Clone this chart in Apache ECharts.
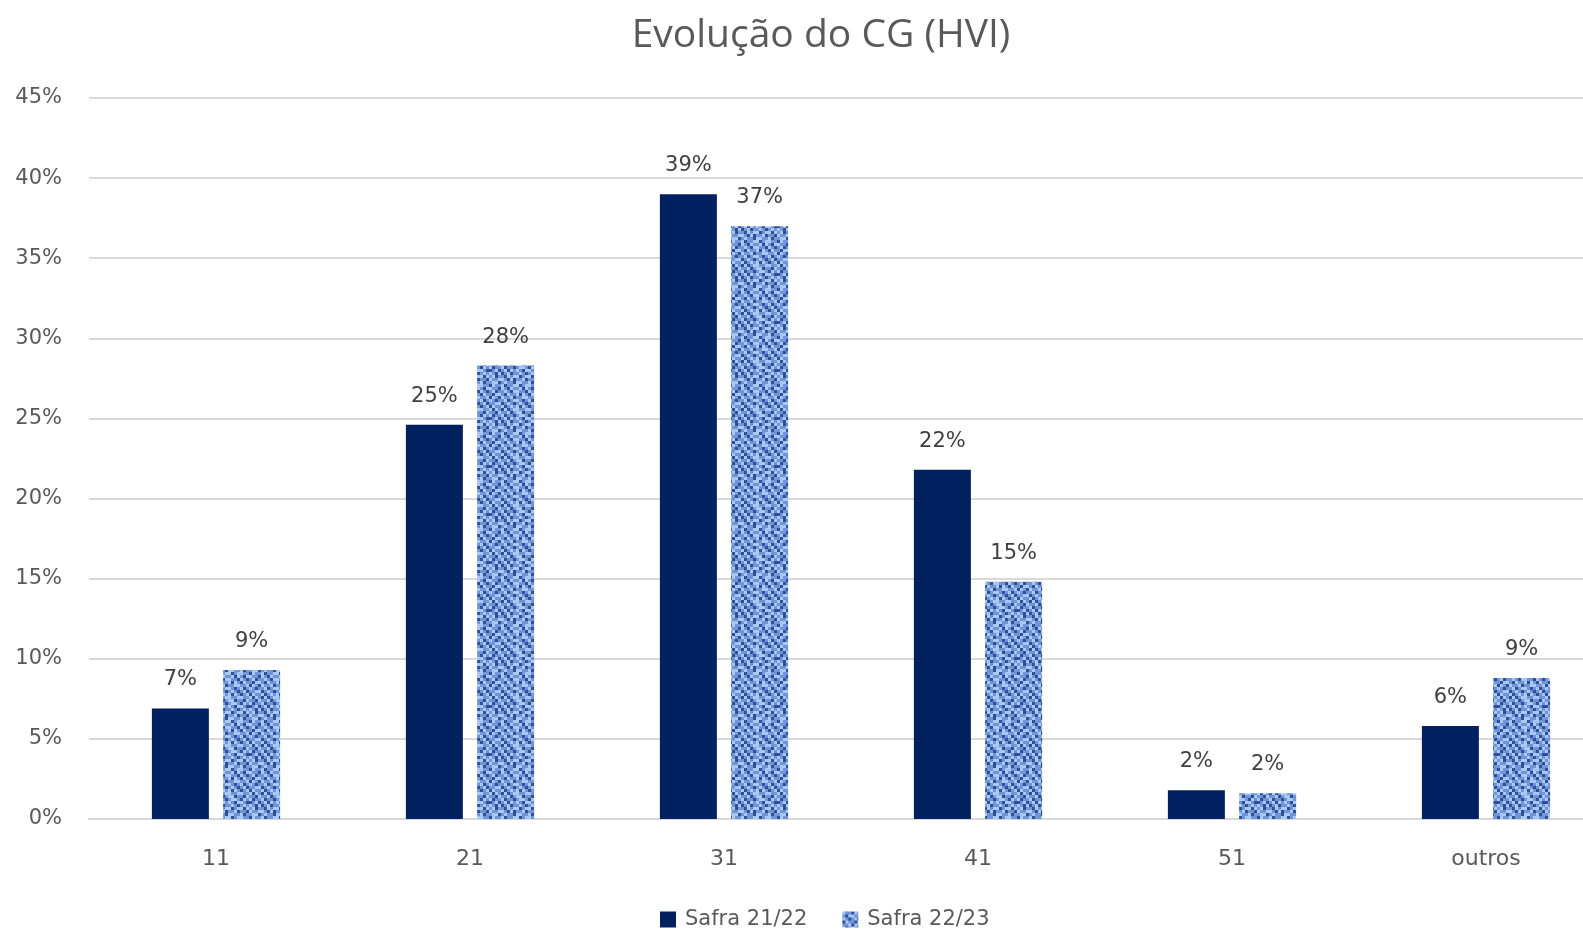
<!DOCTYPE html>
<html>
<head>
<meta charset="utf-8">
<script src="https://cdn.jsdelivr.net/npm/echarts@6/dist/echarts.min.js"></script>
<style>
html,body{margin:0;padding:0;background:#fff;}
#chart{width:1583px;height:933px;}
</style>
</head>
<body>
<div id="chart"></div>
<script>
const categories = ['11', '21', '31', '41', '51', 'outros'];
const safra2122 = [6.9, 24.6, 39.0, 21.8, 1.8, 5.8];
const safra2223 = [9.3, 28.3, 37.0, 14.8, 1.6, 8.8];
const seriesNames = ['Safra 21/22', 'Safra 22/23'];
const yTicks = { min: 0, max: 45, interval: 5 };

// woven texture tile (style only)
function makeTexture() {
  const rows = [
    '0112011021100210',
    '1200112012011020',
    '0121021101200112',
    '2011200120110201',
    '1102012011021100',
    '0210121102100121',
    '1021100210121012',
    '2102011021010201',
    '0110201202100110',
    '1201120110210021',
    '2010211021121001',
    '0122102102010120',
    '1010120210211012',
    '0201021120100210',
    '1120110012021102',
    '0211002101120011'
  ];
  const cols = ['#aac7f1', '#6f94d7', '#2d5096'];
  const cell = 3;
  const c = document.createElement('canvas');
  c.width = rows[0].length * cell;
  c.height = rows.length * cell;
  const ctx = c.getContext('2d');
  for (let y = 0; y < rows.length; y++) {
    for (let x = 0; x < rows[y].length; x++) {
      ctx.fillStyle = cols[+rows[y][x]];
      ctx.fillRect(x * cell, y * cell, cell, cell);
    }
  }
  return c;
}
const texture = makeTexture();

const chart = echarts.init(document.getElementById('chart'));
const labelStyle = {
  show: true,
  position: 'top',
  distance: 18,
  fontFamily: 'DejaVu Sans',
  fontSize: 21,
  color: '#404040',
  formatter: p => Math.round(p.value) + '%'
};
chart.setOption({
  animation: false,
  backgroundColor: '#ffffff',
  title: {
    text: 'Evolução do CG (HVI)',
    left: 816,
    textAlign: 'center',
    top: 11,
    textStyle: { fontFamily: 'Open Sans', fontSize: 39, fontWeight: 'normal', color: '#595959' }
  },
  legend: {
    bottom: -2,
    left: 655,
    itemWidth: 16,
    itemHeight: 16,
    itemGap: 35,
    icon: 'rect',
    textStyle: { fontFamily: 'DejaVu Sans', fontSize: 21, color: '#595959', padding: [0, 0, 0, 4] },
    data: seriesNames
  },
  grid: { left: 89, width: 1524, top: 98, bottom: 114, containLabel: false, outerBoundsMode: 'none' },
  xAxis: {
    type: 'category',
    data: categories,
    axisTick: { show: false },
    axisLine: { lineStyle: { color: '#d9d9d9', width: 2 } },
    axisLabel: { fontFamily: 'DejaVu Sans', fontSize: 22, color: '#595959', margin: 29 }
  },
  yAxis: {
    type: 'value',
    min: yTicks.min,
    max: yTicks.max,
    interval: yTicks.interval,
    axisLabel: { fontFamily: 'DejaVu Sans', fontSize: 21, color: '#595959', margin: 27, formatter: v => v + '%' },
    splitLine: { lineStyle: { color: '#d9d9d9', width: 2 } },
    axisLine: { show: false },
    axisTick: { show: false }
  },
  series: [
    {
      name: seriesNames[0],
      type: 'bar',
      data: safra2122,
      barWidth: 57,
      barGap: '25%',
      itemStyle: { color: '#002060' },
      label: labelStyle
    },
    {
      name: seriesNames[1],
      type: 'bar',
      data: safra2223,
      barWidth: 57,
      barGap: '25%',
      itemStyle: { color: { image: texture, repeat: 'repeat' } },
      label: labelStyle
    }
  ]
});
</script>
</body>
</html>
